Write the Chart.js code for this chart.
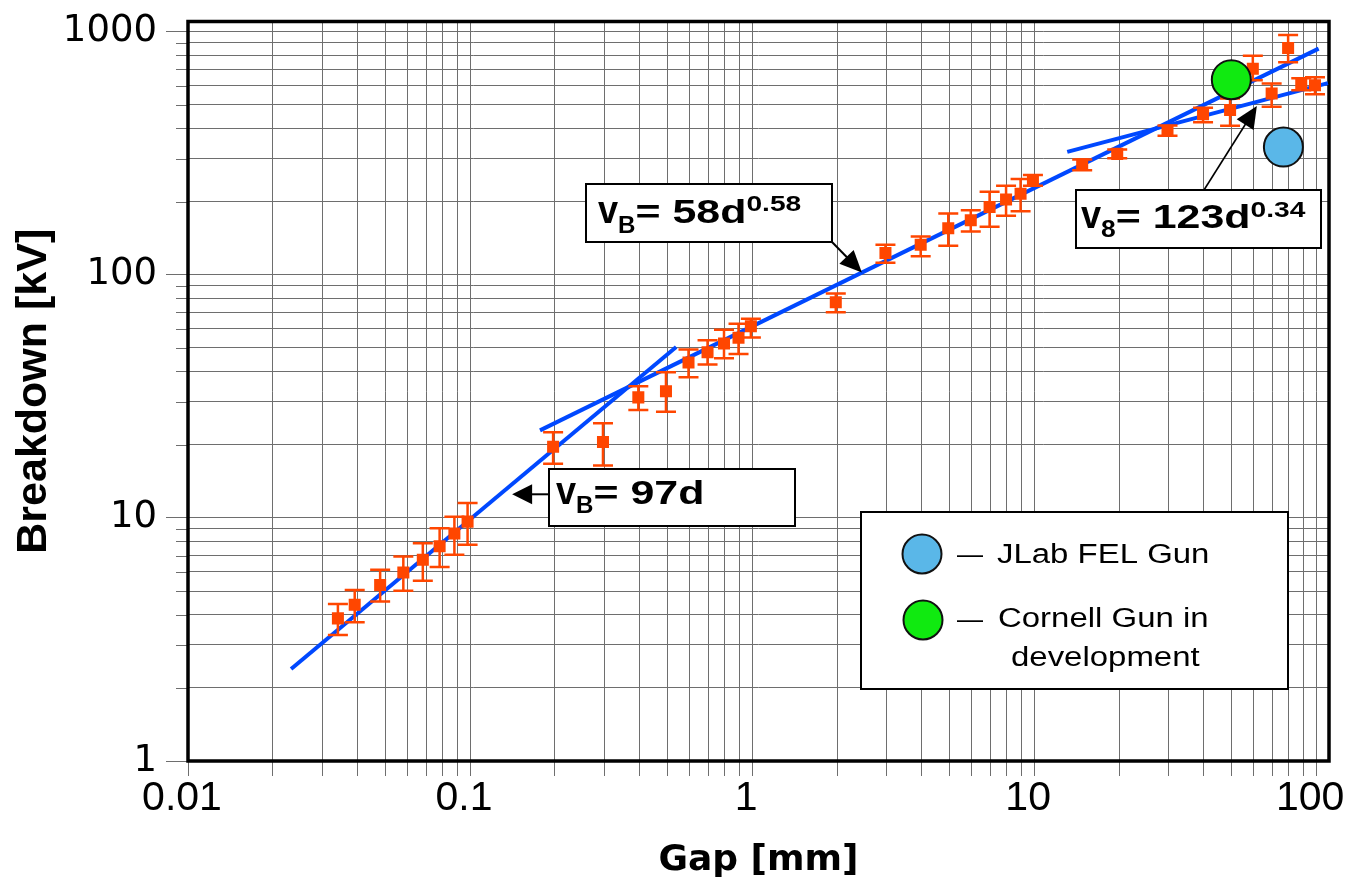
<!DOCTYPE html>
<html>
<head>
<meta charset="utf-8">
<script src="https://cdn.jsdelivr.net/npm/chart.js@4/dist/chart.umd.min.js"></script>
<style>
html,body{margin:0;padding:0;background:#ffffff;}
#wrap{width:1358px;height:882px;position:relative;}
</style>
</head>
<body>
<div id="wrap"><canvas id="c" width="1358" height="882"></canvas></div>
<script>
// ---- data ----
const gapMm       = [0.034, 0.039, 0.048, 0.058, 0.068, 0.078, 0.088, 0.098, 0.197, 0.296, 0.395, 0.495, 0.595, 0.695, 0.795, 0.895, 0.99, 1.98, 2.97, 3.96, 4.96, 5.96, 6.95, 7.95, 8.95, 9.9, 14.8, 19.7, 29.7, 39.7, 49.5, 59.6, 69.5, 79.5, 88.5, 99];
const breakdownKv = [3.86, 4.39, 5.29, 5.96, 6.72, 7.64, 8.63, 9.65, 19.6, 20.5, 31.3, 33.2, 43.5, 48.0, 52.1, 55.0, 61.4, 77, 122.8, 132.7, 155.2, 167.6, 189.9, 204, 215.3, 243.6, 284.7, 314, 391, 457, 476, 703, 556, 855, 611, 601];
const errLowKv    = [3.30, 3.72, 4.53, 5.02, 5.51, 6.28, 7.05, 7.76, 16.7, 16.4, 27.8, 27.3, 37.9, 42.7, 45.3, 47.2, 55.2, 70.1, 111.9, 119, 131.5, 150.4, 157.6, 174.6, 182.3, 232.4, 269, 301, 373, 424, 410, 630, 491, 747, 574, 552];
const errHighKv   = [4.42, 5.05, 6.12, 6.93, 7.86, 9.06, 10.1, 11.5, 22.5, 24.5, 34.8, 39.7, 49.3, 53.8, 59.4, 62.9, 65.9, 83.7, 132.7, 143.5, 178.6, 184, 219.6, 232, 247.6, 257, 298, 327, 411, 486, 531, 795, 611, 968, 643, 649];

const fitLinearGap = [0.0232, 0.538];
const fitLinearKv  = [2.39, 50.4];
const fitMidGap    = [0.177, 102];
const fitMidKv     = [22.9, 851];
const fitHighGap   = [13.1, 110];
const fitHighKv    = [320, 614];

const jlabGap    = [76.5];
const jlabKv     = [335];
const cornellGap = [50];
const cornellKv  = [634];

const arrowTipGap = [0.141, 2.45, 61.6];
const arrowTipKv  = [12.5, 102, 494];

const xMajorValues = [0.01, 0.1, 1, 10, 100];
const xTickLabels  = ['0.01', '0.1', '1', '10', '100'];
const yMajorValues = [1, 10, 100, 1000];
const yTickLabels  = ['1', '10', '100', '1000'];

// ---- helpers ----
const toPts = (xs, ys) => xs.map((x, i) => ({x: x, y: ys[i]}));
function withMinors(majors) {
  const out = [];
  majors.forEach((m, i) => {
    out.push(m);
    if (i < majors.length - 1) for (let k = 2; k <= 9; k++) out.push(m * k);
  });
  return out;
}
function isMajor(v, majors) { return majors.some(m => Math.abs(v / m - 1) < 1e-6); }
function labelFor(v, majors, labels) {
  const i = majors.findIndex(m => Math.abs(v / m - 1) < 1e-6);
  return i >= 0 ? labels[i] : '';
}

const RED = '#FF4600';
const BLUE_LINE = '#0048FF';
const GRID = '#6e6e6e';

function sText(ctx, str, x, y, font, sx) {
  ctx.save();
  ctx.font = font;
  ctx.textAlign = 'left';
  ctx.textBaseline = 'alphabetic';
  ctx.translate(x, y);
  ctx.scale(sx, 1);
  ctx.fillText(str, 0, 0);
  const w = ctx.measureText(str).width * sx;
  ctx.restore();
  return w;
}
function richText(ctx, x, y, parts) {
  let cx = x;
  parts.forEach(p => {
    cx += sText(ctx, p.t, cx, y + p.dy, 'bold ' + p.s + 'px "Liberation Sans"', p.sx);
  });
}
function arrow(ctx, x0, y0, x1, y1, headLen, headHalf, lw) {
  const dx = x1 - x0, dy = y1 - y0, L = Math.hypot(dx, dy), ux = dx / L, uy = dy / L;
  const bx = x1 - ux * headLen, by = y1 - uy * headLen;
  ctx.save();
  ctx.strokeStyle = '#000'; ctx.fillStyle = '#000'; ctx.lineWidth = lw;
  ctx.beginPath(); ctx.moveTo(x0, y0); ctx.lineTo(bx + ux * 2, by + uy * 2); ctx.stroke();
  ctx.beginPath();
  ctx.moveTo(x1, y1);
  ctx.lineTo(bx - uy * headHalf, by + ux * headHalf);
  ctx.lineTo(bx + uy * headHalf, by - ux * headHalf);
  ctx.closePath(); ctx.fill();
  ctx.restore();
}
function box(ctx, x, y, w, h) {
  ctx.save();
  ctx.fillStyle = '#fff'; ctx.fillRect(x, y, w, h);
  ctx.strokeStyle = '#000'; ctx.lineWidth = 2; ctx.strokeRect(x, y, w, h);
  ctx.restore();
}

const POINTS_INDEX = 3;

const decorPlugin = {
  id: 'decor',
  beforeDatasetsDraw(chart) {
    const ctx = chart.ctx, ca = chart.chartArea, ys = chart.scales.y;
    ctx.save();
    ctx.strokeStyle = GRID; ctx.lineWidth = 1;
    ys.ticks.forEach(t => {
      if (!isMajor(t.value, yMajorValues)) {
        const py = Math.round(ys.getPixelForValue(t.value)) + 0.5;
        ctx.beginPath(); ctx.moveTo(ca.left - 12, py); ctx.lineTo(ca.left, py); ctx.stroke();
      }
    });
    ctx.strokeStyle = '#000'; ctx.lineWidth = 3.5;
    ctx.strokeRect(ca.left, ca.top, ca.right - ca.left, ca.bottom - ca.top);
    ctx.restore();
  },
  beforeDatasetDraw(chart, args) {
    if (args.index !== POINTS_INDEX) return;
    const ctx = chart.ctx, xs = chart.scales.x, ys = chart.scales.y;
    ctx.save();
    ctx.strokeStyle = RED; ctx.lineWidth = 2.5;
    gapMm.forEach((g, i) => {
      const px = xs.getPixelForValue(g);
      const pLo = ys.getPixelForValue(errLowKv[i]);
      const pHi = ys.getPixelForValue(errHighKv[i]);
      ctx.beginPath();
      ctx.moveTo(px, pLo); ctx.lineTo(px, pHi);
      ctx.moveTo(px - 10, pLo); ctx.lineTo(px + 10, pLo);
      ctx.moveTo(px - 10, pHi); ctx.lineTo(px + 10, pHi);
      ctx.stroke();
    });
    ctx.restore();
  },
  afterDatasetsDraw(chart) {
    const ctx = chart.ctx, xs = chart.scales.x, ys = chart.scales.y;
    const tip = i => [xs.getPixelForValue(arrowTipGap[i]), ys.getPixelForValue(arrowTipKv[i])];
    ctx.save();
    ctx.fillStyle = '#000';

    // v_B = 97d
    box(ctx, 549, 469, 246, 57);
    let t = tip(0);
    arrow(ctx, 549, t[1], t[0], t[1], 20, 10, 2);
    richText(ctx, 556, 504, [
      {t: 'v', s: 38, dy: 0, sx: 0.95}, {t: 'B', s: 23, dy: 9, sx: 1.05}, {t: '= 97d', s: 33, dy: 0, sx: 1.3}
    ]);

    // v_B = 58d^0.58
    box(ctx, 586, 184, 246, 58);
    t = tip(1);
    arrow(ctx, 832, 242, t[0], t[1], 22, 10, 2);
    richText(ctx, 598, 223, [
      {t: 'v', s: 38, dy: 0, sx: 0.95}, {t: 'B', s: 23, dy: 10, sx: 1.05}, {t: '= 58d', s: 33, dy: 0, sx: 1.3}, {t: '0.58', s: 22, dy: -12, sx: 1.28}
    ]);

    // v_8 = 123d^0.34
    box(ctx, 1076, 190, 245, 58);
    t = tip(2);
    arrow(ctx, 1204, 190, t[0], t[1], 22, 10, 1.6);
    richText(ctx, 1081, 228, [
      {t: 'v', s: 38, dy: 0, sx: 0.95}, {t: '8', s: 23, dy: 9, sx: 1.15}, {t: '= 123d', s: 33, dy: 0, sx: 1.3}, {t: '0.34', s: 22, dy: -11, sx: 1.28}
    ]);

    // legend
    box(ctx, 861, 512, 427, 177);
    const circ = (cx, cy, col) => {
      ctx.beginPath(); ctx.arc(cx, cy, 19.5, 0, Math.PI * 2);
      ctx.fillStyle = col; ctx.fill();
      ctx.lineWidth = 2; ctx.strokeStyle = '#111'; ctx.stroke();
    };
    circ(922, 554, '#5AB7E8');
    circ(923, 620, '#10EA10');
    ctx.fillStyle = '#000';
    const lf = '27px "Liberation Sans"';
    sText(ctx, '\u2014', 957, 563, '26px "Liberation Sans"', 1);
    sText(ctx, 'JLab FEL Gun', 997, 563, lf, 1.22);
    sText(ctx, '\u2014', 957, 628, '26px "Liberation Sans"', 1);
    sText(ctx, 'Cornell Gun in', 998, 627, lf, 1.22);
    sText(ctx, 'development', 1011, 666, lf, 1.22);
    ctx.restore();
  }
};

const ctx = document.getElementById('c').getContext('2d');
new Chart(ctx, {
  type: 'scatter',
  data: {
    datasets: [
      {label: 'fit 97d', data: toPts(fitLinearGap, fitLinearKv), showLine: true, borderColor: BLUE_LINE, borderWidth: 4, pointRadius: 0, order: 3},
      {label: 'fit 58d^0.58', data: toPts(fitMidGap, fitMidKv), showLine: true, borderColor: BLUE_LINE, borderWidth: 4, pointRadius: 0, order: 3},
      {label: 'fit 123d^0.34', data: toPts(fitHighGap, fitHighKv), showLine: true, borderColor: BLUE_LINE, borderWidth: 4, pointRadius: 0, order: 3},
      {label: 'measured', data: toPts(gapMm, breakdownKv), pointStyle: 'rect', pointRadius: 8.5, backgroundColor: RED, borderWidth: 0, order: 2},
      {label: 'JLab FEL Gun', data: toPts(jlabGap, jlabKv), pointRadius: 19.5, backgroundColor: '#5AB7E8', borderColor: '#111', borderWidth: 2, order: 1},
      {label: 'Cornell Gun in development', data: toPts(cornellGap, cornellKv), pointRadius: 19.5, backgroundColor: '#10EA10', borderColor: '#111', borderWidth: 2, order: 1}
    ]
  },
  options: {
    responsive: false,
    devicePixelRatio: 1,
    animation: false,
    layout: {padding: {left: 0, top: 9, right: 29, bottom: 0}},
    plugins: {legend: {display: false}, tooltip: {enabled: false}},
    scales: {
      x: {
        type: 'logarithmic',
        min: 0.01, max: 111,
        afterBuildTicks: s => { s.ticks = withMinors(xMajorValues).map(v => ({value: v})); },
        afterFit: s => { s.height = 121; s.paddingLeft = 0; s.paddingRight = 0; },
        ticks: {
          autoSkip: false, maxRotation: 0, minRotation: 0, padding: -2, labelOffset: -6,
          color: '#000', font: {family: '"Liberation Sans"', size: 41},
          callback: v => labelFor(v, xMajorValues, xTickLabels)
        },
        grid: {color: GRID, lineWidth: 1, tickLength: 15, tickColor: GRID, drawTicks: true},
        border: {display: false},
        title: {display: true, text: 'Gap [mm]', color: '#000', font: {family: '"DejaVu Sans"', weight: 'bold', size: 36}, padding: {top: 0, bottom: 0}}
      },
      y: {
        type: 'logarithmic',
        min: 1, max: 1100,
        afterBuildTicks: s => { s.ticks = withMinors(yMajorValues).map(v => ({value: v})); },
        afterFit: s => { s.width = 188; s.paddingTop = 0; s.paddingBottom = 0; },
        ticks: {
          autoSkip: false, padding: 9,
          color: '#000', font: {family: '"DejaVu Sans"', size: 37},
          callback: v => labelFor(v, yMajorValues, yTickLabels)
        },
        grid: {
          color: GRID, lineWidth: 1, tickLength: 22, drawTicks: true,
          tickColor: c => (c.tick && isMajor(c.tick.value, yMajorValues)) ? GRID : 'rgba(0,0,0,0)'
        },
        border: {display: false},
        title: {display: true, text: 'Breakdown [kV]', color: '#000', font: {family: '"Liberation Sans"', weight: 'bold', size: 43}, padding: {top: 8, bottom: 0}}
      }
    }
  },
  plugins: [decorPlugin]
});
</script>
</body>
</html>
